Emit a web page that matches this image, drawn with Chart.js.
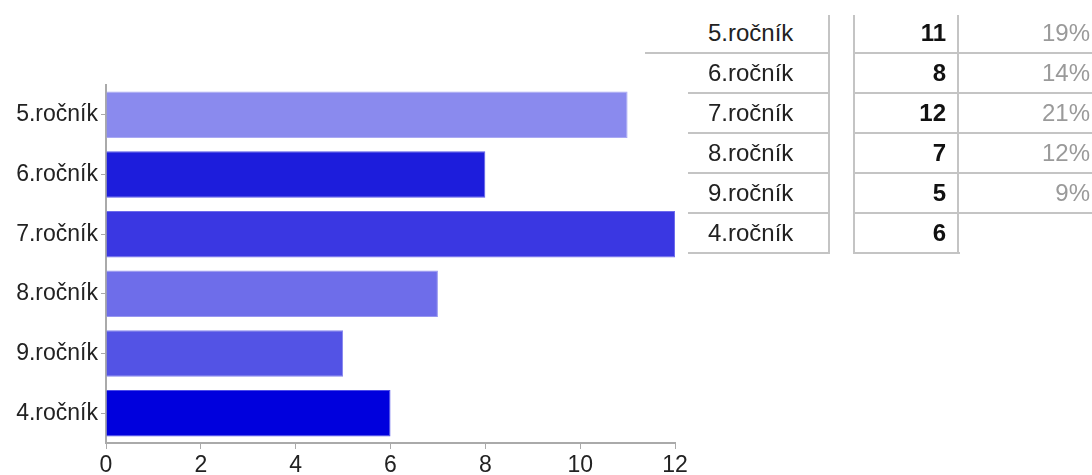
<!DOCTYPE html>
<html>
<head>
<meta charset="utf-8">
<script src="https://cdn.jsdelivr.net/npm/chart.js@4.4.1/dist/chart.umd.min.js"></script>
<style>
  html, body { margin: 0; padding: 0; background: #fff; width: 1092px; height: 475px; overflow: hidden; }
  #wrap { position: absolute; left: 0; top: 0; width: 700px; height: 475px; }
  .cell { position: absolute; font-family: "Liberation Sans", Arial, sans-serif; font-size: 24px; color: #222; line-height: 40px; height: 40px; white-space: nowrap; }
  .hl { position: absolute; height: 2px; background: #c4c4c4; }
  .vl { position: absolute; width: 2px; background: #c4c4c4; }
</style>
</head>
<body>
<div id="wrap"><canvas id="c" width="700" height="475"></canvas></div>
<div id="table"></div>
<script>
const categories = ['5.ročník', '6.ročník', '7.ročník', '8.ročník', '9.ročník', '4.ročník'];
const counts = [11, 8, 12, 7, 5, 6];
const percentLabels = ['19%', '14%', '21%', '12%', '9%', ''];
const xTicks = [0, 2, 4, 6, 8, 10, 12];
const barColors = ['#8a8aee', '#1d1ddc', '#3a37e2', '#6e6dea', '#5353e5', '#0000dd'];
const barEdges = ['#a9a9f3', '#5a5ae8', '#6d6bec', '#9796f0', '#8585ee', '#4c4ce9'];

new Chart(document.getElementById('c'), {
  type: 'bar',
  data: {
    labels: categories,
    datasets: [{
      data: counts,
      backgroundColor: barColors,
      borderColor: barEdges,
      borderWidth: 1,
      categoryPercentage: 1,
      barPercentage: 0.78
    }]
  },
  options: {
    indexAxis: 'y',
    responsive: false,
    devicePixelRatio: 1,
    animation: false,
    layout: { padding: { top: 85, right: 25, left: 0, bottom: 0 } },
    plugins: { legend: { display: false }, tooltip: { enabled: false } },
    scales: {
      x: {
        min: 0, max: 12,
        afterBuildTicks: (s) => { s.ticks = xTicks.map(v => ({ value: v })); },
        afterFit: (s) => { s.height = 32; },
        border: { display: true, color: '#aaaaaa', width: 2 },
        grid: { display: true, drawOnChartArea: false, drawTicks: true, tickLength: 6, color: '#aaaaaa', lineWidth: 1 },
        ticks: { color: '#222', padding: 3, font: { family: '"Liberation Sans", Arial, sans-serif', size: 23 }, maxRotation: 0 }
      },
      y: {
        afterFit: (s) => { s.width = 106; },
        border: { display: true, color: '#aaaaaa', width: 2 },
        grid: { display: true, offset: false, drawOnChartArea: false, drawTicks: true, tickLength: 5, color: '#aaaaaa', lineWidth: 1 },
        ticks: { color: '#222', padding: 3, font: { family: '"Liberation Sans", Arial, sans-serif', size: 23 } }
      }
    }
  }
});

// side table
const t = document.getElementById('table');
const rowTop = 13, rowH = 40;
function add(cls, style, text) {
  const d = document.createElement('div');
  d.className = cls;
  Object.assign(d.style, style);
  if (text !== undefined) d.textContent = text;
  t.appendChild(d);
}
categories.forEach((c, i) => {
  const top = rowTop + i * rowH;
  add('cell', { left: '708px', top: top + 'px' }, c);
  add('cell', { left: '860px', width: '86px', textAlign: 'right', top: top + 'px', fontWeight: 'bold', color: '#111' }, String(counts[i]));
  if (percentLabels[i]) add('cell', { left: '960px', width: '130px', textAlign: 'right', top: top + 'px', color: '#9a9a9a' }, percentLabels[i]);
  const lineY = top + rowH - 1;
  add('hl', { left: (i === 0 ? 645 : 688) + 'px', width: (829 - (i === 0 ? 645 : 688)) + 'px', top: lineY + 'px' });
  const rightEnd = percentLabels[i] ? 1092 : 960;
  add('hl', { left: '855px', width: (rightEnd - 855) + 'px', top: lineY + 'px' });
});
const tableBottom = rowTop + categories.length * rowH + 1;
add('vl', { left: '828px', top: '15px', height: (tableBottom - 15) + 'px' });
add('vl', { left: '853px', top: '15px', height: (tableBottom - 15) + 'px' });
add('vl', { left: '957px', top: '15px', height: (tableBottom - 15) + 'px' });
</script>
</body>
</html>
